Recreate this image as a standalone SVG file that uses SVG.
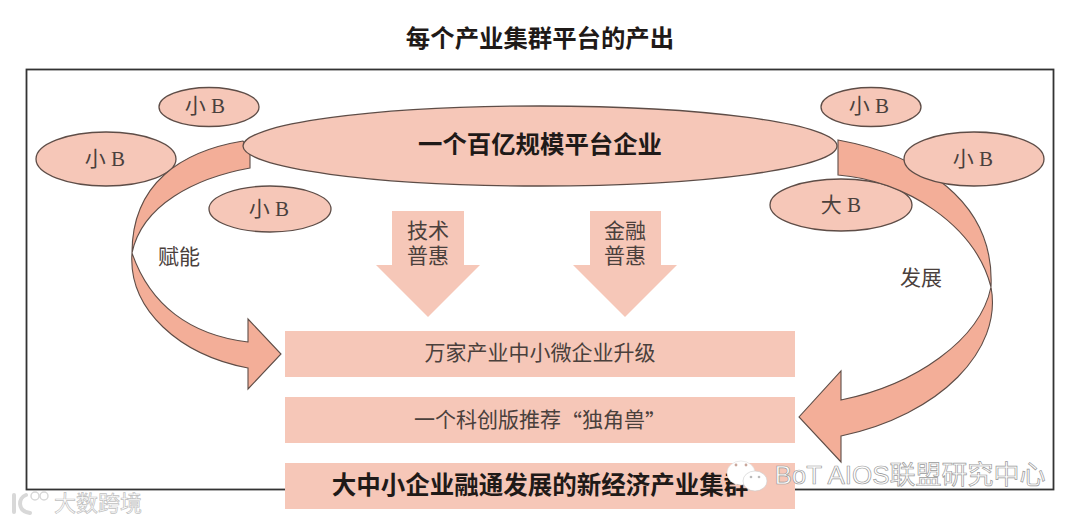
<svg xmlns="http://www.w3.org/2000/svg" width="1080" height="523" viewBox="0 0 1080 523">
<style>
text{font-family:"Liberation Serif","Noto Sans CJK SC",serif;text-anchor:middle;dominant-baseline:central;fill:#4a403c}
.e{fill:#f6c7b8;stroke:#5e4d47;stroke-width:1.3}
.a{fill:#f3ae98;stroke:#5e4d47;stroke-width:1.1;stroke-linejoin:miter}
.d{fill:#f6c7b8}
.r{fill:#f6c7b8}
.n{font-size:21px}
.b{font-weight:700;fill:#1f1a18}
.w{fill:#fff;stroke:#9a9a9a;stroke-width:.7;font-family:"Liberation Sans","Noto Sans CJK SC",sans-serif}
.q{font-family:"Noto Sans CJK SC",sans-serif}
</style>
<rect width="1080" height="523" fill="#fff"/>
<text id="title" class="b" x="540" y="38" font-size="24.4">每个产业集群平台的产出</text>
<rect id="frame" x="26.5" y="69.5" width="1027" height="420" fill="none" stroke="#333" stroke-width="1.8"/>
<g id="big-b"><ellipse class="e" cx="841" cy="205" rx="71" ry="26"/><text class="n" x="841" y="205">大 B</text></g>
<g id="small-b-2"><ellipse class="e" cx="106" cy="159" rx="70" ry="27"/><text class="n" x="105" y="159">小 B</text></g>
<g id="connectors">
<path id="empower-arrow" class="a" d="M243,141C182,151 132,183 132,253C142,205 195,178 250,168V150ZM132,253C128,310 180,355 248,368V389L281,354L248,319V342C190,335 150,305 132,253Z"/>
<path id="develop-arrow" class="a" d="M838,140C920,155 995,200 991,287C975,225 905,180 838,175ZM991,287C1003,350 940,415 841,436V462L799,417L841,371V400C915,385 980,340 991,287Z"/>
</g>
<g id="small-b-1"><ellipse class="e" cx="209" cy="107" rx="50" ry="19.5"/><text class="n" x="205" y="106">小 B</text></g>
<g id="small-b-3"><ellipse class="e" cx="270" cy="209" rx="61" ry="23"/><text class="n" x="269" y="209">小 B</text></g>
<g id="small-b-4"><ellipse class="e" cx="871" cy="107" rx="50" ry="19.5"/><text class="n" x="869" y="106">小 B</text></g>
<g id="small-b-5"><ellipse class="e" cx="974" cy="159" rx="70" ry="27"/><text class="n" x="973" y="159">小 B</text></g>
<g id="platform"><ellipse class="e" cx="540" cy="146" rx="297" ry="40"/><text class="b" x="540" y="144" font-size="24.4">一个百亿规模平台企业</text></g>
<g id="tech"><polygon class="d" points="392,211 464,211 464,265 480,265 428,317 376,265 392,265"/><text class="n" x="428" y="231">技术</text><text class="n" x="428" y="256">普惠</text></g>
<g id="finance"><polygon class="d" points="590,211 661,211 661,265 677,265 625,317 573,265 590,265"/><text class="n" x="625" y="231">金融</text><text class="n" x="625" y="256">普惠</text></g>
<text id="empower" class="n" x="179" y="257">赋能</text>
<text id="develop" class="n" x="921" y="278">发展</text>
<g id="row1"><rect class="r" x="285" y="331" width="510" height="46"/><text class="n" x="540" y="353">万家产业中小微企业升级</text></g>
<g id="row2"><rect class="r" x="285" y="397" width="510" height="46"/><text class="n" x="540" y="420">一个科创版推荐<tspan class="q">“</tspan>独角兽<tspan class="q">”</tspan></text></g>
<g id="row3"><rect class="r" x="285" y="463" width="510" height="46"/><text class="b" x="540" y="485" font-size="24.5">大中小企业融通发展的新经济产业集群</text></g>
<g id="watermark-left">
<path d="M14,495V512M26,495C18,498 17,511 30,513" fill="none" stroke="#d8d8d8" stroke-width="4" stroke-linecap="round"/>
<circle cx="35" cy="496" r="4" fill="#fff" stroke="#d8d8d8" stroke-width="1.5"/><circle cx="44" cy="496" r="4" fill="#fff" stroke="#d8d8d8" stroke-width="1.5"/>
<text class="w" x="98" y="503" font-size="22" style="stroke:#c0c0c0">大数跨境</text>
</g>
<g id="watermark-right">
<ellipse cx="741" cy="473" rx="14" ry="12" fill="#fff" stroke="#ddd" stroke-width=".6"/>
<ellipse cx="755" cy="481" rx="12" ry="10" fill="#fff" stroke="#ccc" stroke-width=".6"/>
<circle cx="736" cy="465" r="1.4" fill="#c9a79c"/><circle cx="746" cy="465" r="1.4" fill="#c9a79c"/>
<circle cx="751" cy="477" r="1.3" fill="#bbb"/><circle cx="759" cy="477" r="1.3" fill="#bbb"/>
<text class="w" x="910" y="475" font-size="26">BoT AIOS联盟研究中心</text>
</g>
</svg>
